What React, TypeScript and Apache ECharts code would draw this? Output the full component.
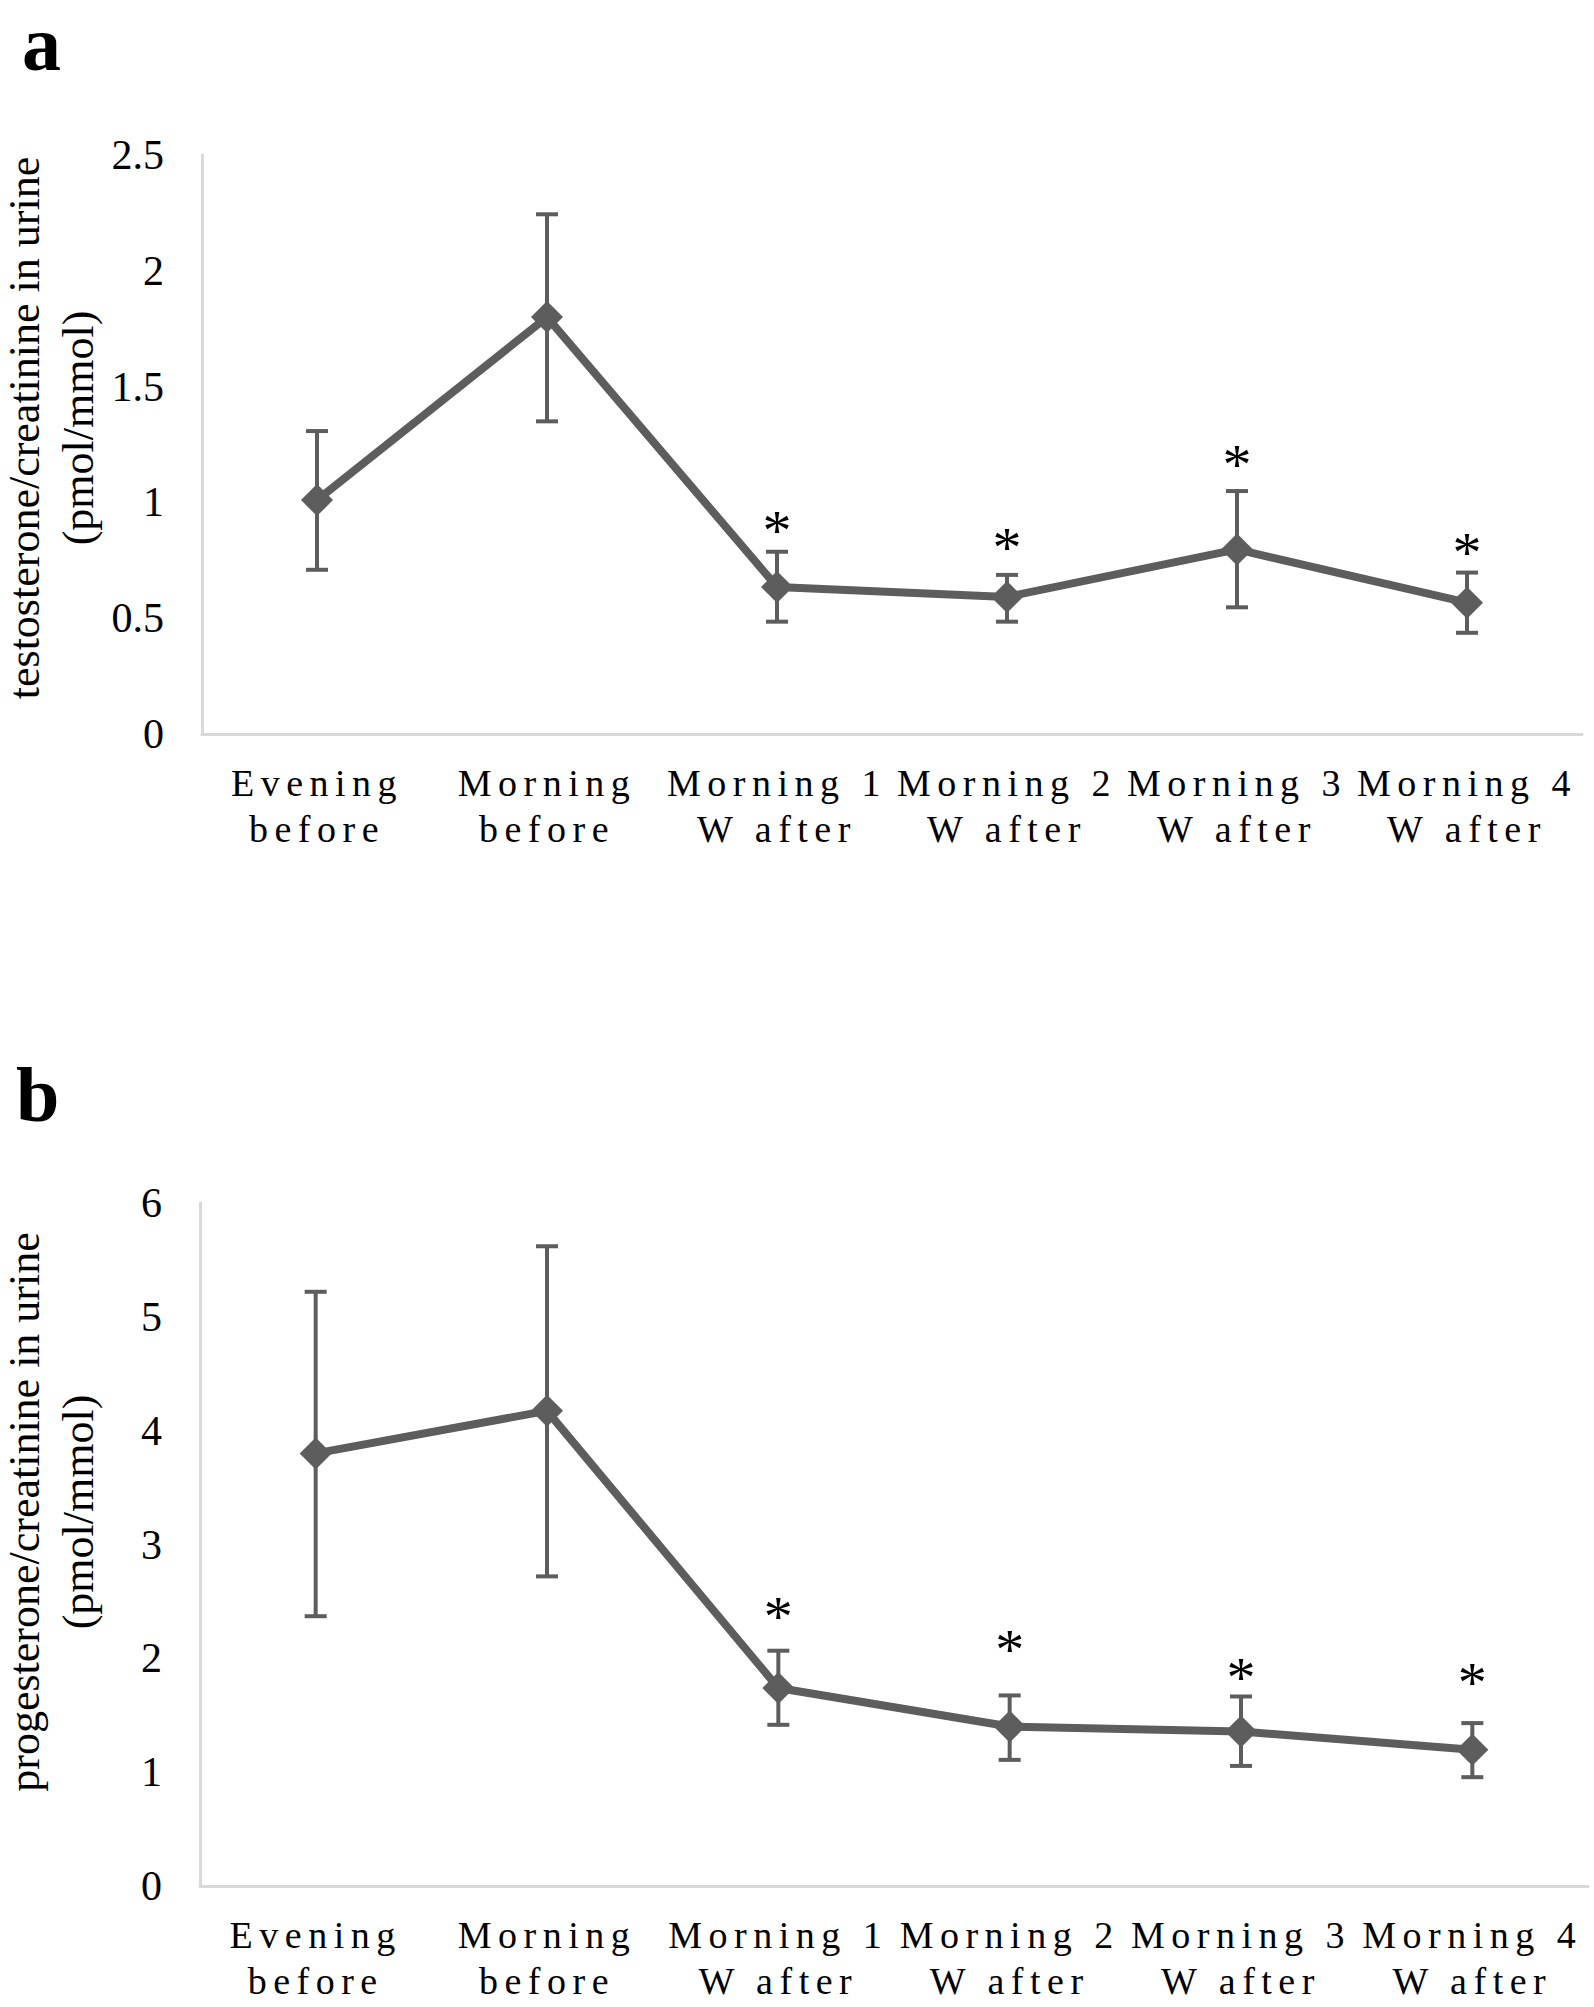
import React, { useEffect, useRef } from "react";
import * as echarts from "echarts";

const categories = [
  "Evening\nbefore",
  "Morning\nbefore",
  "Morning 1\nW after",
  "Morning 2\nW after",
  "Morning 3\nW after",
  "Morning 4\nW after",
];

const testosteroneMean = [1.01, 1.8, 0.635, 0.592, 0.797, 0.567];
const testosteroneLow = [0.709, 1.35, 0.485, 0.485, 0.547, 0.437];
const testosteroneHigh = [1.308, 2.244, 0.787, 0.687, 1.049, 0.697];
const testosteroneStar = [null, null, 0.915, 0.838, 1.197, 0.82];

const progesteroneMean = [3.8, 4.174, 1.739, 1.401, 1.357, 1.196];
const progesteroneLow = [2.37, 2.72, 1.416, 1.108, 1.055, 0.956];
const progesteroneHigh = [5.22, 5.62, 2.067, 1.674, 1.665, 1.431];
const progesteroneStar = [null, null, 2.442, 2.149, 1.9, 1.856];

const testosteroneAxis = { min: 0, max: 2.5, interval: 0.5 };
const progesteroneAxis = { min: 0, max: 6, interval: 1 };

const yTitleA = "testosterone/creatinine in urine\n(pmol/mmol)";
const yTitleB = "progesterone/creatinine in urine\n(pmol/mmol)";

const GRAY = "#5d5d5d";
const AXIS_GRAY = "#d9d9d9";
const FONT = '"Liberation Serif", "Times New Roman", serif';

function errorSeries(gridIdx: number, low: number[], high: number[], star: (number | null)[]) {
  return {
    type: "custom",
    xAxisIndex: gridIdx,
    yAxisIndex: gridIdx,
    z: 1,
    silent: true,
    data: low.map((l, i) => [i, l, high[i], star[i] == null ? -1 : star[i]]),
    renderItem: (params: any, api: any) => {
      const i = api.value(0);
      const lo = api.coord([i, api.value(1)]);
      const hi = api.coord([i, api.value(2)]);
      const cap = 11;
      const style = { stroke: GRAY, lineWidth: 4 };
      const children: any[] = [
        { type: "line", shape: { x1: lo[0], y1: lo[1], x2: hi[0], y2: hi[1] }, style },
        { type: "line", shape: { x1: lo[0] - cap, y1: lo[1], x2: lo[0] + cap, y2: lo[1] }, style },
        { type: "line", shape: { x1: hi[0] - cap, y1: hi[1], x2: hi[0] + cap, y2: hi[1] }, style },
      ];
      const s = api.value(3);
      if (s >= 0) {
        const p = api.coord([i, s]);
        children.push({
          type: "text",
          x: p[0],
          y: p[1] + 8,
          style: {
            text: "*",
            font: `58px ${FONT}`,
            lineHeight: 40,
            fill: "#000",
            align: "center",
            verticalAlign: "middle",
          },
        });
      }
      return { type: "group", children };
    },
  };
}

function lineSeries(gridIdx: number, values: number[]) {
  return {
    type: "line",
    xAxisIndex: gridIdx,
    yAxisIndex: gridIdx,
    z: 3,
    data: values,
    symbol: "diamond",
    symbolSize: 32,
    lineStyle: { color: GRAY, width: 8 },
    itemStyle: { color: GRAY },
  };
}

function xAxisFor(gridIdx: number) {
  return {
    type: "category",
    gridIndex: gridIdx,
    data: categories,
    boundaryGap: true,
    axisLine: { show: true, lineStyle: { color: AXIS_GRAY, width: 3 } },
    axisTick: { show: false },
    axisLabel: {
      interval: 0,
      margin: 26,
      color: "#000",
      fontFamily: FONT,
      fontSize: 38,
      lineHeight: 46,
    },
    splitLine: { show: false },
  };
}

function yAxisFor(gridIdx: number, ax: { min: number; max: number; interval: number }) {
  return {
    type: "value",
    gridIndex: gridIdx,
    min: ax.min,
    max: ax.max,
    interval: ax.interval,
    axisLine: { show: true, lineStyle: { color: AXIS_GRAY, width: 3 } },
    axisTick: { show: false },
    splitLine: { show: false },
    axisLabel: { margin: 38, color: "#000", fontFamily: FONT, fontSize: 42 },
  };
}

export default function App() {
  const ref = useRef<HTMLDivElement>(null);

  useEffect(() => {
    document.body.style.margin = "0";
    const el = ref.current!;
    const chart = echarts.init(el, null, { renderer: "svg" });
    chart.setOption({
      animation: false,
      backgroundColor: "#fff",
      grid: [
        { left: 202, top: 155, width: 1380, height: 579 },
        { left: 200, top: 1203, width: 1388, height: 683 },
      ],
      xAxis: [xAxisFor(0), xAxisFor(1)],
      yAxis: [yAxisFor(0, testosteroneAxis), yAxisFor(1, progesteroneAxis)],
      graphic: [
        {
          type: "text",
          x: 22,
          y: 43,
          style: {
            text: "a",
            font: `bold 78px ${FONT}`,
            lineHeight: 50,
            fill: "#000",
            align: "left",
            verticalAlign: "middle",
          },
        },
        {
          type: "text",
          x: 16,
          y: 1094,
          style: {
            text: "b",
            font: `bold 78px ${FONT}`,
            lineHeight: 60,
            fill: "#000",
            align: "left",
            verticalAlign: "middle",
          },
        },
        {
          type: "text",
          x: 51,
          y: 428,
          rotation: Math.PI / 2,
          style: {
            text: yTitleA,
            font: `44px ${FONT}`,
            lineHeight: 54,
            fill: "#000",
            align: "center",
            verticalAlign: "middle",
          },
        },
        {
          type: "text",
          x: 51,
          y: 1512,
          rotation: Math.PI / 2,
          style: {
            text: yTitleB,
            font: `44px ${FONT}`,
            lineHeight: 54,
            fill: "#000",
            align: "center",
            verticalAlign: "middle",
          },
        },
      ],
      series: [
        errorSeries(0, testosteroneLow, testosteroneHigh, testosteroneStar),
        lineSeries(0, testosteroneMean),
        errorSeries(1, progesteroneLow, progesteroneHigh, progesteroneStar),
        lineSeries(1, progesteroneMean),
      ],
    });

    const lines = new Set(categories.flatMap((c) => c.split("\n")));
    const spread = () => {
      el.querySelectorAll("text").forEach((t) => {
        if (lines.has((t.textContent || "").trim())) {
          (t as SVGTextElement).style.letterSpacing = "6.5px";
        }
      });
    };
    spread();
    chart.on("finished", spread);

    return () => {
      chart.dispose();
    };
  }, []);

  return <div ref={ref} style={{ width: 1594, height: 2007 }} />;
}
